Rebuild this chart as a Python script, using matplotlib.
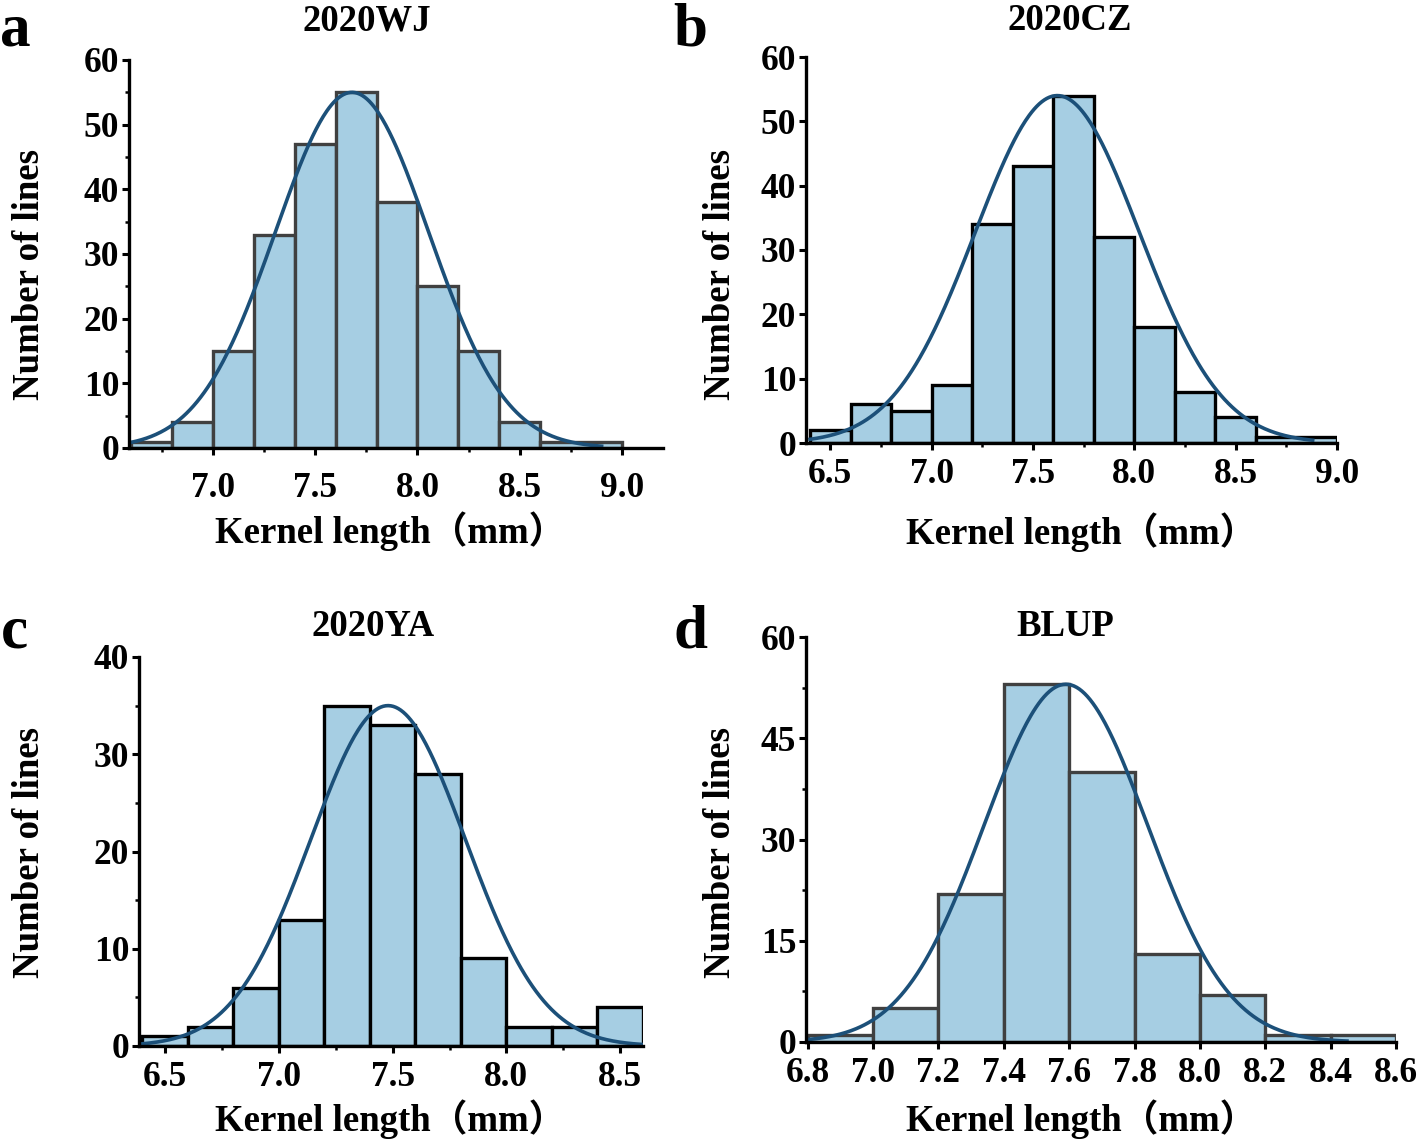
import numpy as np
import matplotlib
matplotlib.use("Agg")
import matplotlib.pyplot as plt
from matplotlib.ticker import MultipleLocator, FixedLocator

plt.rcParams['font.family'] = ['Liberation Serif', 'Noto Sans CJK SC', 'DejaVu Sans']
plt.rcParams['font.weight'] = 'bold'

# ---------------- data ----------------
titles = ["2020WJ", "2020CZ", "2020YA", "BLUP"]
letters = ["a", "b", "c", "d"]
xlabel = "Kernel length（mm）"
ylabel = "Number of lines"

wj_edges = [6.6, 6.8, 7.0, 7.2, 7.4, 7.6, 7.8, 8.0, 8.2, 8.4, 8.6, 9.0]
wj_counts = [1, 4, 15, 33, 47, 55, 38, 25, 15, 4, 1]

cz_edges = [6.4, 6.6, 6.8, 7.0, 7.2, 7.4, 7.6, 7.8, 8.0, 8.2, 8.4, 8.6, 9.0]
cz_counts = [2, 6, 5, 9, 34, 43, 54, 32, 18, 8, 4, 1]

ya_edges = [6.4, 6.6, 6.8, 7.0, 7.2, 7.4, 7.6, 7.8, 8.0, 8.2, 8.4, 8.6]
ya_counts = [1, 2, 6, 13, 35, 33, 28, 9, 2, 2, 4]

blup_edges = [6.8, 7.0, 7.2, 7.4, 7.6, 7.8, 8.0, 8.2, 8.4, 8.6]
blup_counts = [1, 5, 22, 53, 40, 13, 7, 1, 1]

# fitted normal curves (mean, sd, peak height, x start, x end)
wj_fit = (7.68, 0.375, 55.0, 6.6, 8.9)
cz_fit = (7.62, 0.405, 54.0, 6.4, 8.88)
ya_fit = (7.48, 0.34, 35.0, 6.4, 8.6)
blup_fit = (7.59, 0.25, 53.0, 6.8, 8.45)

wj_xticks = [7.0, 7.5, 8.0, 8.5, 9.0]
cz_xticks = [6.5, 7.0, 7.5, 8.0, 8.5, 9.0]
ya_xticks = [6.5, 7.0, 7.5, 8.0, 8.5]
blup_xticks = [6.8, 7.0, 7.2, 7.4, 7.6, 7.8, 8.0, 8.2, 8.4, 8.6]

wj_yticks = [0, 10, 20, 30, 40, 50, 60]
cz_yticks = [0, 10, 20, 30, 40, 50, 60]
ya_yticks = [0, 10, 20, 30, 40]
blup_yticks = [0, 15, 30, 45, 60]

# ---------------- layout ----------------
W, H = 1424, 1140
fig = plt.figure(figsize=(W / 100, H / 100), dpi=100)

def fx(x):
    return x / W

def fy(y):
    return 1 - y / H

FILL = "#a6cee3"
CURVE = "#1c5079"
TICK_FS = 25.5
LAB_FS = 26.5

panels = [
    dict(edges=wj_edges, counts=wj_counts, fit=wj_fit, xt=wj_xticks, yt=wj_yticks,
         box=(129, 663, 60, 448), xlim=(6.59, 9.2), ylim=(0, 60), ec="#404040",
         xminor=[6.75, 7.25, 7.75, 8.25, 8.75], yminor=5, pad=12,
         title_xy=(367, 21), ylab_xy=(30, 275), xlab_xy=(390, 531), letter_xy=(15, 46)),
    dict(edges=cz_edges, counts=cz_counts, fit=cz_fit, xt=cz_xticks, yt=cz_yticks,
         box=(806, 1337, 57, 443), xlim=(6.38, 9.0), ylim=(0, 60), ec="black",
         xminor=[6.75, 7.25, 7.75, 8.25, 8.75], yminor=None, pad=6,
         title_xy=(1070, 21), ylab_xy=(720, 275), xlab_xy=(1081, 532), letter_xy=(690, 46)),
    dict(edges=ya_edges, counts=ya_counts, fit=ya_fit, xt=ya_xticks, yt=ya_yticks,
         box=(139, 643, 657, 1046), xlim=(6.386, 8.6), ylim=(0, 40), ec="black",
         xminor=[6.75, 7.25, 7.75, 8.25], yminor=5, pad=6,
         title_xy=(373, 626), ylab_xy=(30, 853), xlab_xy=(390, 1119), letter_xy=(14, 648)),
    dict(edges=blup_edges, counts=blup_counts, fit=blup_fit, xt=blup_xticks, yt=blup_yticks,
         box=(806, 1396, 637, 1042), xlim=(6.795, 8.6), ylim=(0, 60), ec="#404040",
         xminor=None, yminor=7.5, pad=6,
         title_xy=(1065, 626), ylab_xy=(720, 853), xlab_xy=(1081, 1119), letter_xy=(690, 648)),
]

for i, p in enumerate(panels):
    l, r, t, b = p["box"]
    ax = fig.add_axes([fx(l), fy(b), fx(r) - fx(l), (b - t) / H])
    edges = np.array(p["edges"])
    counts = np.array(p["counts"])
    ax.bar(edges[:-1], counts, width=np.diff(edges), align="edge",
           color=FILL, edgecolor=p["ec"], linewidth=2.4, zorder=2)
    mu, sd, pk, x0, x1 = p["fit"]
    xs = np.linspace(x0, x1, 400)
    ax.plot(xs, pk * np.exp(-0.5 * ((xs - mu) / sd) ** 2), color=CURVE, lw=2.6, zorder=3)

    ax.set_xlim(*p["xlim"])
    ax.set_ylim(*p["ylim"])
    ax.set_xticks(p["xt"])
    ax.set_xticklabels([f"{v:.1f}" for v in p["xt"]])
    ax.set_yticks(p["yt"])
    ax.set_yticklabels([str(v) for v in p["yt"]])
    if p["xminor"]:
        ax.xaxis.set_minor_locator(FixedLocator(p["xminor"]))
    if p["yminor"]:
        ax.yaxis.set_minor_locator(MultipleLocator(p["yminor"]))
    for s in ["top", "right"]:
        ax.spines[s].set_visible(False)
    for s in ["left", "bottom"]:
        ax.spines[s].set_linewidth(2.4)
        ax.spines[s].set_color("black")
        ax.spines[s].set_zorder(4)
    ax.tick_params(axis="both", which="major", direction="out", length=5, width=2.2,
                   labelsize=TICK_FS, color="black")
    ax.tick_params(axis="x", which="major", pad=p["pad"])
    ax.tick_params(axis="y", which="major", pad=2)
    ax.tick_params(axis="both", which="minor", direction="out", length=3, width=1.8)
    for lab in ax.get_xticklabels() + ax.get_yticklabels():
        lab.set_fontweight("bold")
    ax.patch.set_alpha(0)

    tx, ty = p["title_xy"]
    fig.text(fx(tx), fy(ty), titles[i], ha="center", va="center",
             fontsize=LAB_FS, fontweight="bold")
    yx, yy = p["ylab_xy"]
    fig.text(fx(yx), fy(yy), ylabel, ha="center", va="center", rotation=90,
             fontsize=LAB_FS, fontweight="bold")
    xx, xy = p["xlab_xy"]
    fig.text(fx(xx), fy(xy), xlabel, ha="center", va="center",
             fontsize=LAB_FS, fontweight="bold")
    lx, ly = p["letter_xy"]
    fig.text(fx(lx), fy(ly), letters[i], ha="center", va="baseline",
             fontsize=44, fontweight="bold")

fig.savefig("out.png", dpi=100)
